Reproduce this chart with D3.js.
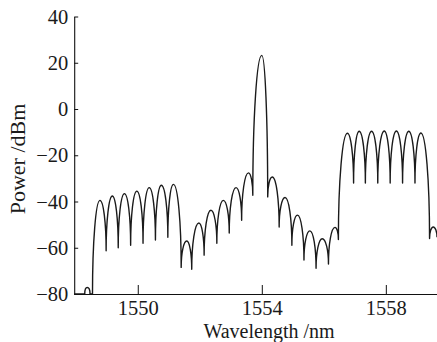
<!DOCTYPE html>
<html>
<head>
<meta charset="utf-8">
<script src="https://cdn.jsdelivr.net/npm/d3@7"></script>
<style>
  html, body { margin: 0; padding: 0; background: #fff; }
  svg { display: block; }
  text { font-family: "Liberation Serif", "Times New Roman", serif; fill: #1a1a1a; }
</style>
</head>
<body>
<svg id="chart" width="437" height="342"></svg>
<script>
// Spectrum peaks and troughs (wavelength in nm, power in dBm)
const wavelength = [
  1547.95, 1548.29, 1548.37, 1548.46, 1548.54,
  1548.78, 1548.98, 1549.18, 1549.37, 1549.57, 1549.77, 1549.97, 1550.17,
  1550.37, 1550.57, 1550.76, 1550.97, 1551.15,
  1551.40, 1551.58, 1551.74, 1551.97, 1552.14, 1552.36, 1552.55, 1552.76,
  1552.95, 1553.17, 1553.35, 1553.57, 1553.71, 1554.00, 1554.19, 1554.34,
  1554.56, 1554.75, 1554.97, 1555.15, 1555.36, 1555.55, 1555.75, 1555.95,
  1556.15, 1556.36, 1556.47,
  1556.76, 1556.96, 1557.14, 1557.34, 1557.54, 1557.74, 1557.95, 1558.14,
  1558.34, 1558.54, 1558.74, 1558.94, 1559.13,
  1559.41, 1559.53, 1559.65
];
const power = [
  -80, -80, -77.2, -80, -80,
  -39.5, -61.3, -37.6, -60.0, -36.6, -58.9, -35.5, -58.1,
  -34.0, -56.7, -33.0, -55.5, -32.6,
  -68.5, -57.1, -69.3, -49.3, -63.2, -43.8, -58.1, -39.5,
  -53.6, -34.0, -48.1, -27.6, -37.3, 23.2, -38.0, -29.4,
  -51.0, -38.3, -58.9, -45.9, -65.3, -52.7, -68.9, -56.1,
  -67.0, -51.2, -56.4,
  -10.5, -32.0, -9.6, -32.0, -9.6, -32.0, -9.5, -32.0,
  -9.5, -32.0, -9.6, -32.0, -10.4,
  -56.0, -51.0, -55.5
];
const xTicks = [1550, 1554, 1558];
const yTicks = [-80, -60, -40, -20, 0, 20, 40];
const xLabel = "Wavelength /nm";
const yLabel = "Power /dBm";

const svg = d3.select("#chart");
const x = d3.scaleLinear().domain([1547.95, 1559.65]).range([74.2, 437]);
const y = d3.scaleLinear().domain([-80, 40]).range([294, 16.5]);

// lobe-shaped curve: vertical tangent at troughs, horizontal tangent at peaks
function lobeCurve(context) {
  return {
    areaStart() {}, areaEnd() {},
    lineStart() { this._n = 0; },
    lineEnd() {},
    point(px, py) {
      px = +px; py = +py;
      if (this._n === 0) { context.moveTo(px, py); this._n = 1; }
      else {
        const x0 = this._x, y0 = this._y, k = 0.55;
        if (py < y0) {
          context.bezierCurveTo(x0, y0 + k * (py - y0), px - k * (px - x0), py, px, py);
        } else if (py > y0) {
          context.bezierCurveTo(x0 + k * (px - x0), y0, px, py - k * (py - y0), px, py);
        } else {
          context.lineTo(px, py);
        }
      }
      this._x = px; this._y = py;
    }
  };
}

const data = wavelength.map((w, i) => ({ w, p: power[i] }));
const line = d3.line().x(d => x(d.w)).y(d => y(d.p)).curve(lobeCurve);

svg.append("path")
  .datum(data)
  .attr("d", line)
  .attr("fill", "none")
  .attr("stroke", "#1a1a1a")
  .attr("stroke-width", 1.4)
  .attr("stroke-linejoin", "round");

// axes
const xAxis = d3.axisBottom(x).tickValues(xTicks).tickFormat(d3.format("d"))
  .tickSizeInner(-9).tickSizeOuter(0).tickPadding(6.5);
const gx = svg.append("g").attr("transform", "translate(0,294)").call(xAxis);
gx.select(".domain").attr("stroke", "#111").attr("stroke-width", 1.1);
gx.selectAll(".tick line").attr("stroke", "#111");
gx.selectAll(".tick text").attr("font-size", "20.5px").attr("fill", "#1a1a1a");

const yAxis = d3.axisLeft(y).tickValues(yTicks)
  .tickFormat(d => d < 0 ? "\u2212" + Math.abs(d) : String(d))
  .tickSizeInner(-4).tickSizeOuter(0).tickPadding(6);
const gy = svg.append("g").attr("transform", "translate(74.2,0)").call(yAxis);
gy.select(".domain").attr("stroke", "#111").attr("stroke-width", 1.1);
gy.selectAll(".tick line").attr("stroke", "#111");
gy.selectAll(".tick text").attr("font-size", "20.5px").attr("fill", "#1a1a1a");

svg.append("text")
  .attr("x", 269).attr("y", 337.5)
  .attr("text-anchor", "middle")
  .attr("font-size", "20px")
  .text(xLabel);

svg.append("text")
  .attr("transform", "translate(24.5,159) rotate(-90)")
  .attr("text-anchor", "middle")
  .attr("font-size", "22px")
  .text(yLabel);
</script>
</body>
</html>
